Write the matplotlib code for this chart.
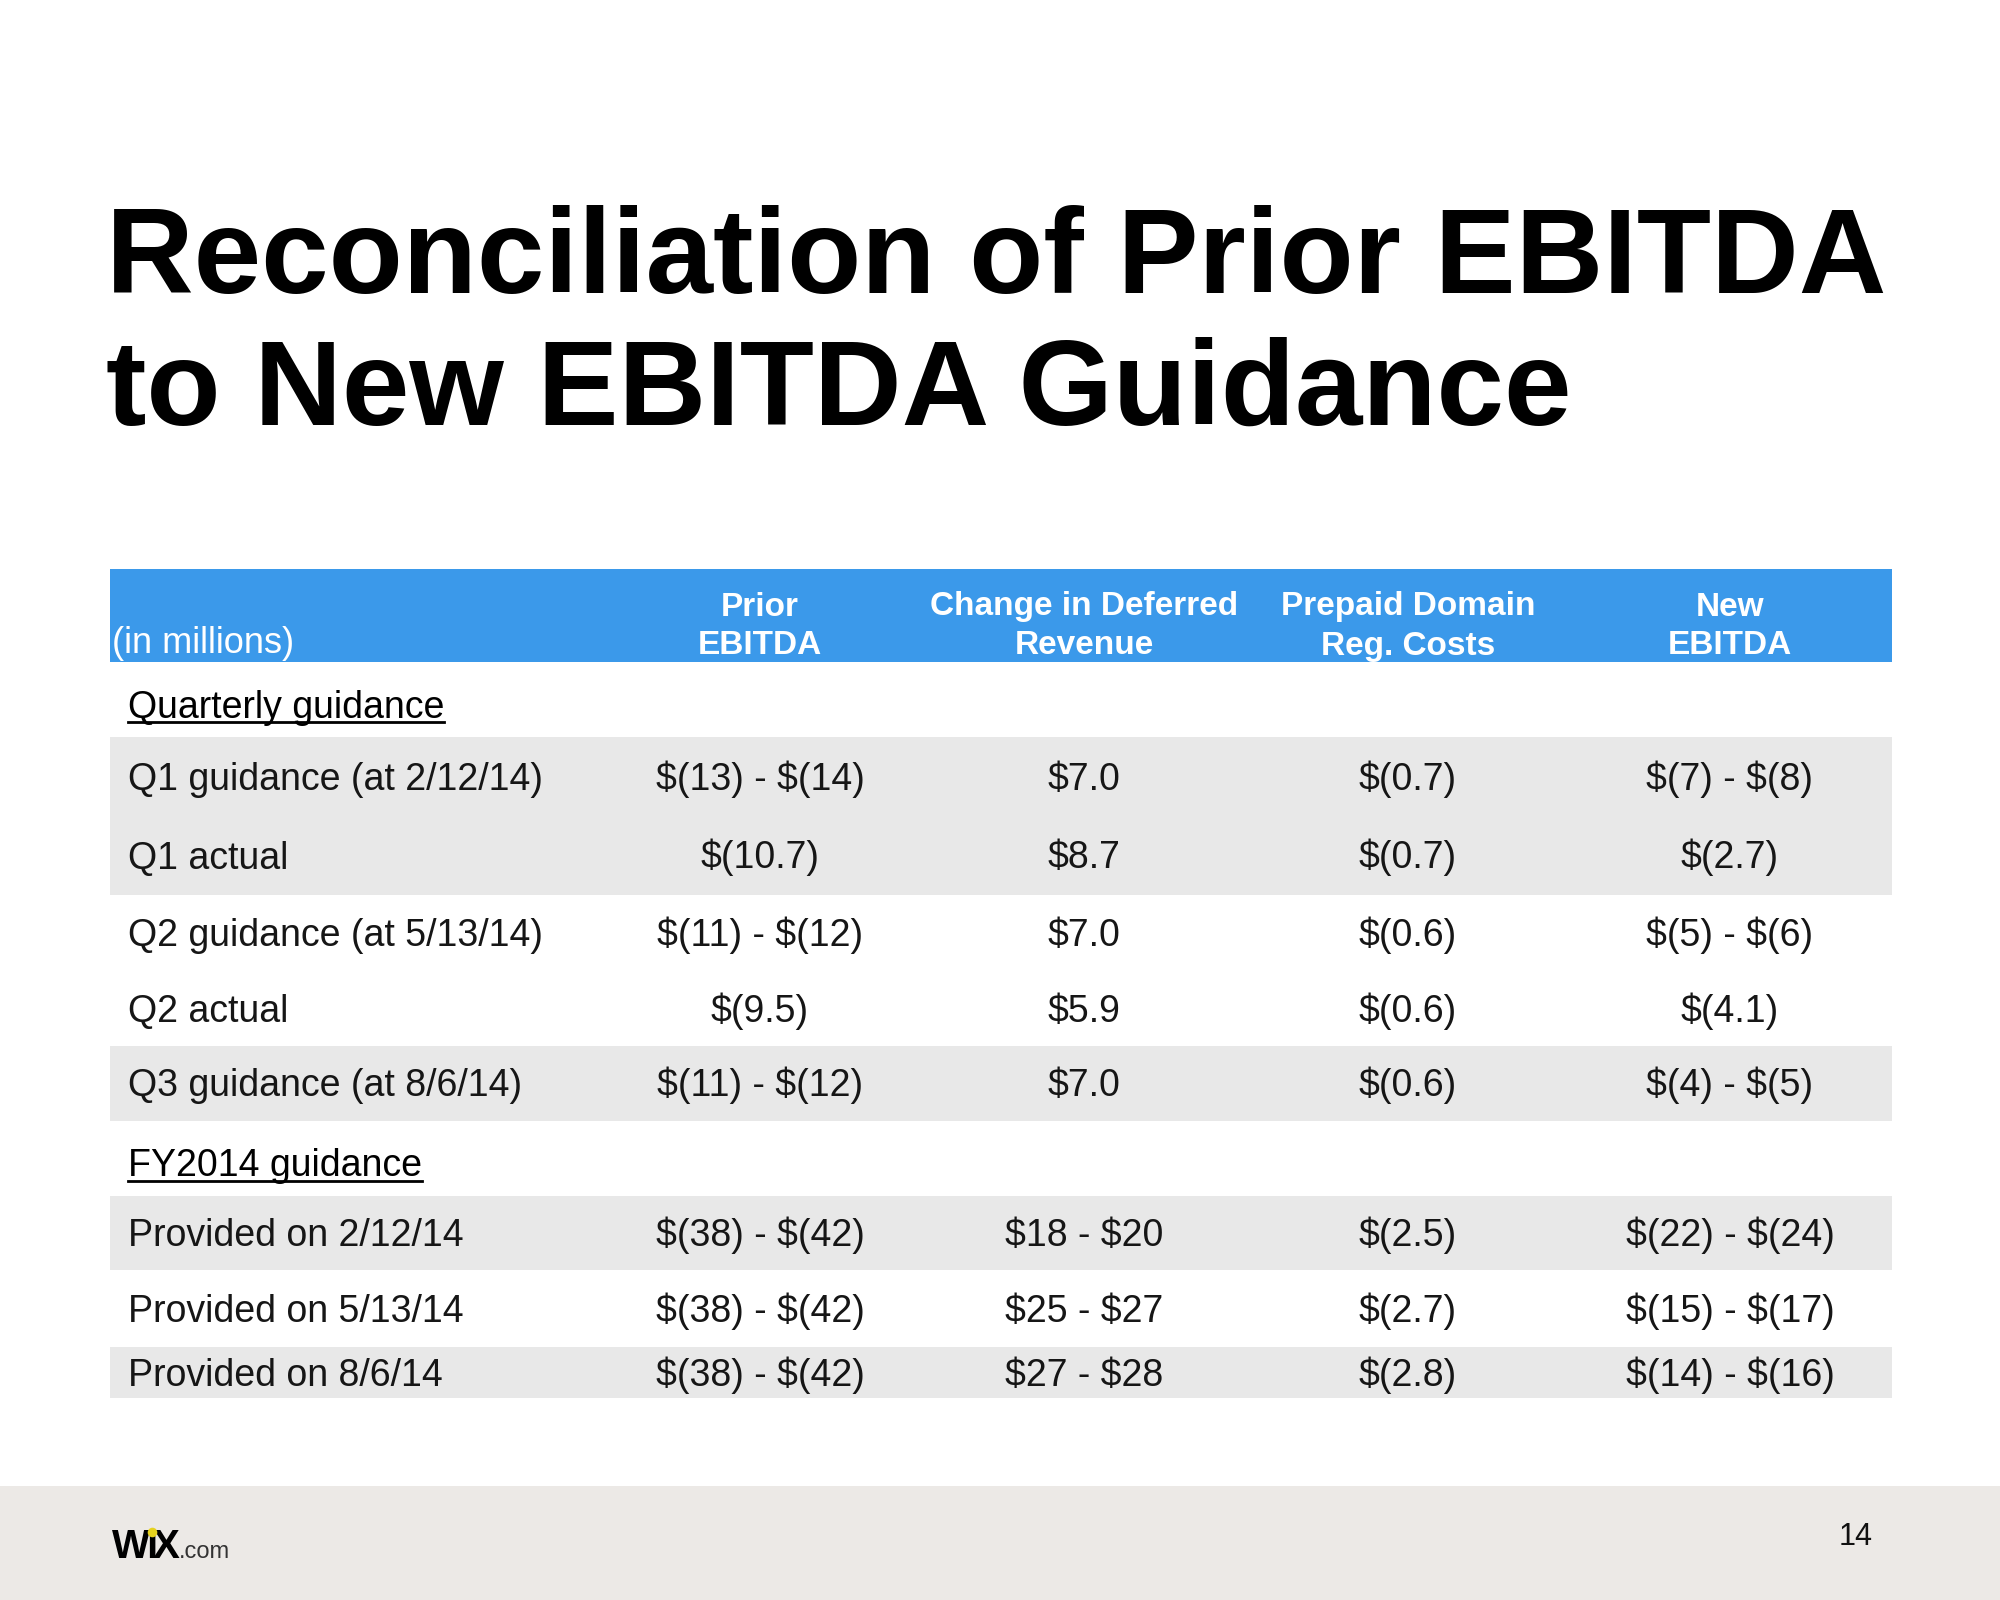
import numpy as np
import matplotlib
matplotlib.use('Agg')
import matplotlib.pyplot as plt

plt.rcParams['font.family'] = ['Liberation Sans', 'DejaVu Sans']

# ---- data ----
title_lines = ['Reconciliation of Prior EBITDA', 'to New EBITDA Guidance']
unit_label = '(in millions)'
col_heads = ['Prior\nEBITDA', 'Change in Deferred\nRevenue',
             'Prepaid Domain\nReg. Costs', 'New\nEBITDA']

sections = ['Quarterly guidance', 'FY2014 guidance']

q_rows = ['Q1 guidance (at 2/12/14)', 'Q1 actual', 'Q2 guidance (at 5/13/14)',
          'Q2 actual', 'Q3 guidance (at 8/6/14)']
q_prior = ['$(13) - $(14)', '$(10.7)', '$(11) - $(12)', '$(9.5)', '$(11) - $(12)']
q_deferred = ['$7.0', '$8.7', '$7.0', '$5.9', '$7.0']
q_domain = ['$(0.7)', '$(0.7)', '$(0.6)', '$(0.6)', '$(0.6)']
q_new = ['$(7) - $(8)', '$(2.7)', '$(5) - $(6)', '$(4.1)', '$(4) - $(5)']

fy_rows = ['Provided on 2/12/14', 'Provided on 5/13/14', 'Provided on 8/6/14']
fy_prior = ['$(38) - $(42)', '$(38) - $(42)', '$(38) - $(42)']
fy_deferred = ['$18 - $20', '$25 - $27', '$27 - $28']
fy_domain = ['$(2.5)', '$(2.7)', '$(2.8)']
fy_new = ['$(22) - $(24)', '$(15) - $(17)', '$(14) - $(16)']

page_no = '14'

# ---- layout / style ----
W, H = 2000, 1600
tbl_left, tbl_right = 110, 1892
head_top, head_bot = 569, 662
label_x = 128
col_x = [760, 1084, 1408, 1730]
row_h = [75, 79, 79, 77, 74, 75, 75, 74, 77, 51]
q_shade = [1, 1, 0, 0, 1]
fy_shade = [1, 0, 1]

blue = '#3B99EA'
stripe = '#E8E8E8'
footer = '#ECE9E6'
body_fs = 13.5

table = [('section', sections[0])]
for i in range(len(q_rows)):
    table.append(('row', q_rows[i], [q_prior[i], q_deferred[i], q_domain[i], q_new[i]], q_shade[i]))
table.append(('section', sections[1]))
for i in range(len(fy_rows)):
    table.append(('row', fy_rows[i], [fy_prior[i], fy_deferred[i], fy_domain[i], fy_new[i]], fy_shade[i]))

fig = plt.figure(figsize=(10, 8), dpi=200)
ax = fig.add_axes([0, 0, 1, 1])
ax.set_xlim(0, W)
ax.set_ylim(H, 0)
ax.axis('off')

# title
ax.text(106, 293, title_lines[0], fontsize=43.7, fontweight='bold', va='baseline', ha='left')
ax.text(106, 425, title_lines[1], fontsize=43.7, fontweight='bold', va='baseline', ha='left')

# header band
ax.barh((head_top + head_bot) / 2, tbl_right - tbl_left, left=tbl_left,
        height=head_bot - head_top, color=blue, lw=0)
ax.text(tbl_left + 2, 653, unit_label, fontsize=13, color='white', va='baseline', ha='left')
for x, h in zip(col_x, col_heads):
    l1, l2 = h.split('\n')
    ax.text(x, 607, l1, fontsize=12, fontweight='bold', color='white', ha='center', va='center')
    ax.text(x, 646, l2, fontsize=12, fontweight='bold', color='white', ha='center', va='center')

fig.canvas.draw()
rend = fig.canvas.get_renderer()
inv = ax.transData.inverted()

y = head_bot
for k, entry in enumerate(table):
    h = row_h[k]
    yc = y + h / 2
    base = yc + 13
    if entry[0] == 'section':
        base += 5
        t = ax.text(label_x, base, entry[1], fontsize=body_fs, color='black',
                    ha='left', va='baseline')
        bb = t.get_window_extent(rend)
        x0 = inv.transform((bb.x0, 0))[0]
        x1 = inv.transform((bb.x1, 0))[0]
        ax.plot([x0, x1], [base + 4, base + 4], color='black', lw=1.0)
    else:
        _, label, vals, shade = entry
        if shade:
            ax.barh(yc, tbl_right - tbl_left, left=tbl_left, height=h, color=stripe, lw=0)
        ax.text(label_x, base, label, fontsize=body_fs, color='#161616',
                ha='left', va='baseline')
        for x, v in zip(col_x, vals):
            ax.text(x, base, v, fontsize=body_fs, color='#161616', ha='center',
                    va='baseline', parse_math=False)
    y += h

# footer
ax.barh((1486 + H) / 2, W, left=0, height=H - 1486, color=footer, lw=0)
ax.text(1856, 1537, page_no, fontsize=11, ha='center', va='center', color='#111111')

# logo
lx = 112
for part in ['W', '\u0131', 'X']:
    t = ax.text(lx, 1558, part, fontsize=14.5, fontweight='bold', ha='left', va='baseline')
    bb = t.get_window_extent(rend)
    x0 = inv.transform((bb.x0, 0))[0]
    x1 = inv.transform((bb.x1, 0))[0]
    if part == '\u0131':
        ax.scatter([(x0 + x1) / 2], [1532], s=12, color='#E6D21E', zorder=5, lw=0)
    lx = x1 - 4
ax.text(lx + 3, 1558, '.com', fontsize=8.5, ha='left', va='baseline', color='#333333')

fig.savefig('out.png', dpi=200)
